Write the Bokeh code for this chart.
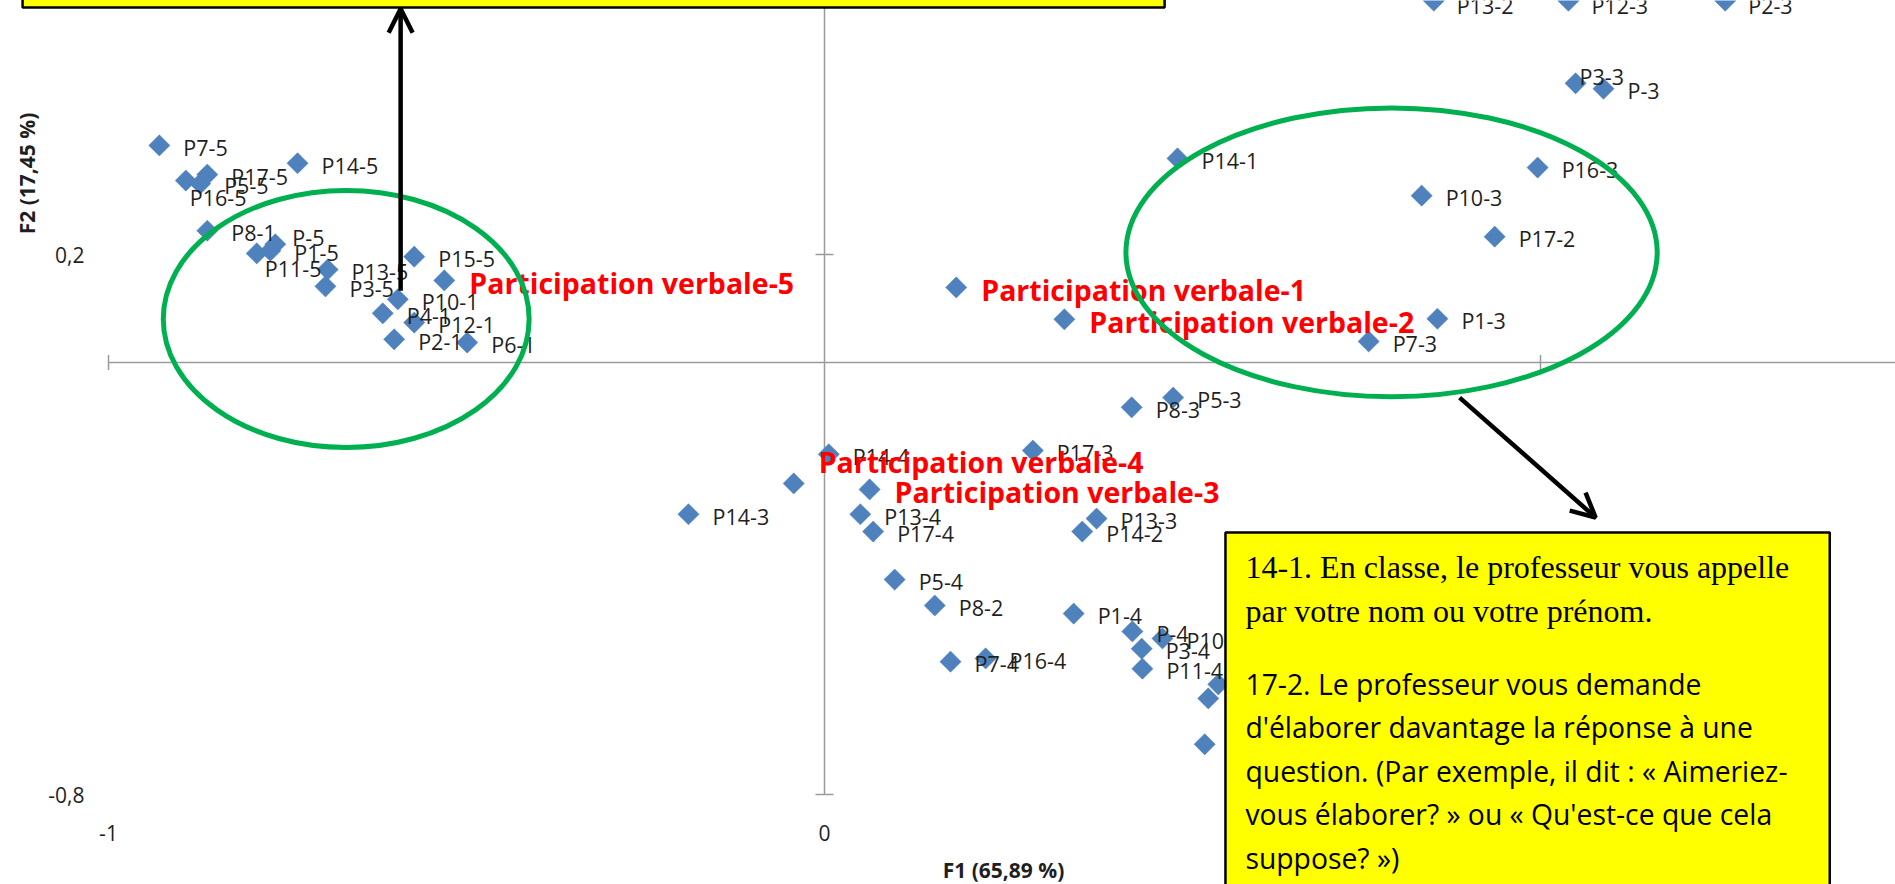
import math
from bokeh.plotting import figure
from bokeh.models import Range1d, Arrow, OpenHead, ColumnDataSource
from bokeh.core.properties import value
from bokeh.embed import file_html
from bokeh.resources import INLINE

# ---------------- data ----------------
point_labels = ["P7-5", "P16-5", "P5-5", "P17-5", "P14-5", "P8-1", "P11-5", "P-5", "P1-5",
                "P13-5", "P3-5", "P15-5", "P10-1", "P4-1", "P12-1", "P2-1", "P6-1",
                "P14-1", "P13-2", "P12-3", "P2-3", "P3-3", "P-3", "P16-3", "P10-3", "P17-2",
                "P1-3", "P7-3", "P8-3", "P5-3", "P14-4", "P17-3", "P14-3", "P13-4", "P17-4",
                "P13-3", "P14-2", "P5-4", "P8-2", "P1-4", "P7-4", "P16-4", "P-4", "P10-4",
                "P3-4", "P11-4", "", "", ""]
f1 = [-0.929, -0.892, -0.872, -0.862, -0.736, -0.862, -0.793, -0.767, -0.774,
      -0.694, -0.697, -0.573, -0.596, -0.617, -0.573, -0.601, -0.499,
      0.493, 0.851, 1.039, 1.258, 1.049, 1.088, 0.996, 0.834, 0.936,
      0.856, 0.760, 0.429, 0.487, 0.006, 0.291, -0.190, 0.050, 0.068,
      0.380, 0.360, 0.098, 0.154, 0.348, 0.176, 0.225, 0.430, 0.472,
      0.443, 0.444, 0.550, 0.536, 0.531]
f2 = [0.402, 0.337, 0.331, 0.348, 0.369, 0.244, 0.202, 0.219, 0.207,
      0.172, 0.141, 0.196, 0.117, 0.091, 0.074, 0.043, 0.037,
      0.378, 0.670, 0.670, 0.670, 0.517, 0.507, 0.361, 0.309, 0.233,
      0.081, 0.039, -0.083, -0.065, -0.170, -0.163, -0.281, -0.281, -0.313,
      -0.289, -0.313, -0.402, -0.450, -0.465, -0.554, -0.548, -0.498, -0.511,
      -0.530, -0.567, -0.596, -0.622, -0.707]

cat_labels = ["Participation verbale-1", "Participation verbale-2", "Participation verbale-3",
              "Participation verbale-4", "Participation verbale-5"]
cat_f1 = [0.184, 0.335, 0.063, -0.043, -0.531]
cat_f2 = [0.139, 0.080, -0.235, -0.224, 0.152]

x_ticks = [-1, 0, 1]
x_tick_labels = ["-1", "0", "1"]
y_ticks = [-0.8, 0.2]
y_tick_labels = ["-0,8", "0,2"]
x_title = "F1 (65,89 %)"
y_title = "F2 (17,45 %)"
x_axis_min, x_axis_max = -1.0, 2.0
y_axis_min, y_axis_max = -0.8, 1.2

note_serif = ["14-1. En classe, le professeur vous appelle",
              "par votre nom ou votre prénom."]
note_sans = ["17-2. Le professeur vous demande",
             "d'élaborer davantage la réponse à une",
             "question. (Par exemple, il dit : « Aimeriez-",
             "vous élaborer? » ou « Qu'est-ce que cela",
             "suppose? »)"]

# ---------------- layout / style ----------------
W, H = 1895, 884
XR = (-1.15084, 1.49581)
YR = (-0.96667, 0.67037)
BLUE = "#4F81BD"
GREEN = "#00B050"
AXIS = "#9A9A9A"
FONT = value("Open Sans")

# label offsets in screen px (default: right of the marker)
DEF_DX, DEF_DY = 24, 2
moved = {"P16-5": (4, 17), "P-5": (17, -7), "P11-5": (8, 15), "P3-3": (4, -7),
         "P13-2": (23, 5), "P12-3": (23, 5), "P2-3": (23, 5),
         "Participation verbale-4": (25, -21)}

p = figure(width=W, height=H, x_range=Range1d(*XR), y_range=Range1d(*YR),
           toolbar_location=None, output_backend="svg", min_border=0,
           x_axis_type=None, y_axis_type=None)
p.outline_line_color = None
p.background_fill_color = "white"
p.border_fill_color = "white"

# axes crossing at the origin
p.segment(x0=[x_axis_min, 0], y0=[0, y_axis_min], x1=[x_axis_max, 0], y1=[0, y_axis_max],
          line_color=AXIS, line_width=1.5)
p.scatter(x=[t for t in x_ticks if t != 0], y=[0] * (len(x_ticks) - 1), marker="dash",
          angle=math.pi / 2, size=15, line_color=AXIS, line_width=1.5)
p.scatter(x=[0] * len(y_ticks), y=y_ticks, marker="dash", size=18,
          line_color=AXIS, line_width=1.5)

# tick labels (low position, as in the original)
p.text(x=x_ticks, y=[YR[0]] * len(x_ticks), text=x_tick_labels, y_offset=-52,
       text_align="center", text_baseline="middle", text_font=FONT,
       text_font_size="21px", text_color="#1F1F1F")
p.text(x=[XR[0]] * len(y_ticks), y=y_ticks, text=y_tick_labels, x_offset=84, y_offset=1,
       text_align="right", text_baseline="middle", text_font=FONT,
       text_font_size="21px", text_color="#1F1F1F")
p.text(x=[0.25], y=[YR[0]], text=[x_title], y_offset=-15, text_align="center",
       text_baseline="middle", text_font=FONT, text_font_style="bold",
       text_font_size="21px", text_color="#1F1F1F")
p.text(x=[XR[0]], y=[0.35], text=[y_title], x_offset=26, angle=math.pi / 2,
       text_align="center", text_baseline="middle", text_font=FONT,
       text_font_style="bold", text_font_size="21px", text_color="#1F1F1F")

# markers
p.scatter(x=f1, y=f2, marker="square", angle=math.pi / 4, size=15,
          fill_color=BLUE, line_color=BLUE, line_width=0.5)
p.scatter(x=cat_f1, y=cat_f2, marker="square", angle=math.pi / 4, size=15,
          fill_color=BLUE, line_color=BLUE, line_width=0.5)

# point labels
pl = [(x, y, t) for x, y, t in zip(f1, f2, point_labels) if t]
src = ColumnDataSource(dict(
    x=[a[0] for a in pl], y=[a[1] for a in pl], text=[a[2] for a in pl],
    dx=[moved.get(a[2], (DEF_DX, DEF_DY))[0] for a in pl],
    dy=[moved.get(a[2], (DEF_DX, DEF_DY))[1] for a in pl]))
p.text(x="x", y="y", text="text", x_offset="dx", y_offset="dy", source=src,
       text_font=FONT, text_font_size="21.5px", text_color="#1F1F1F",
       text_baseline="middle", text_align="left")

csrc = ColumnDataSource(dict(
    x=cat_f1, y=cat_f2, text=cat_labels,
    dx=[moved.get(t, (DEF_DX + 1, DEF_DY + 1))[0] for t in cat_labels],
    dy=[moved.get(t, (DEF_DX + 1, DEF_DY + 1))[1] for t in cat_labels]))
p.text(x="x", y="y", text="text", x_offset="dx", y_offset="dy", source=csrc,
       text_font=FONT, text_font_style="bold", text_font_size="28.5px",
       text_color="#FF0000", text_baseline="middle", text_align="left")

# green ellipses
p.ellipse(x=[-0.668, 0.792], y=[0.0806, 0.204], width=[0.511, 0.742],
          height=[0.476, 0.535], fill_color=None, line_color=GREEN, line_width=5)

# arrows
p.add_layout(Arrow(end=OpenHead(size=24, line_width=4.5, line_color="black"),
                   x_start=-0.592, y_start=0.133, x_end=-0.592, y_end=0.655,
                   line_width=4.5, line_color="black"))
p.add_layout(Arrow(end=OpenHead(size=24, line_width=4.5, line_color="black"),
                   x_start=0.887, y_start=-0.065, x_end=1.077, y_end=-0.287,
                   line_width=4.5, line_color="black"))

# yellow note boxes
boxes = p.quad(left=[0.560, -1.120], right=[1.404, 0.475], top=[-0.315, 1.0],
               bottom=[-1.2, 0.6574], fill_color="#FFFF00", line_color="black",
               line_width=2.5)
boxes.level = "overlay"

t1 = p.text(x=[0.560] * len(note_serif), y=[-0.315] * len(note_serif), text=note_serif,
            x_offset=20, y_offset=[34, 78], text_font=value("Liberation Serif"),
            text_font_size="32px", text_color="black", text_baseline="middle")
t1.level = "overlay"
t2 = p.text(x=[0.560] * len(note_sans), y=[-0.315] * len(note_sans), text=note_sans,
            x_offset=20, y_offset=[151, 194, 238, 281, 325], text_font=FONT,
            text_font_size="28.3px", text_color="black", text_baseline="middle")
t2.level = "overlay"

open("out.html", "w").write(file_html(p, INLINE))
